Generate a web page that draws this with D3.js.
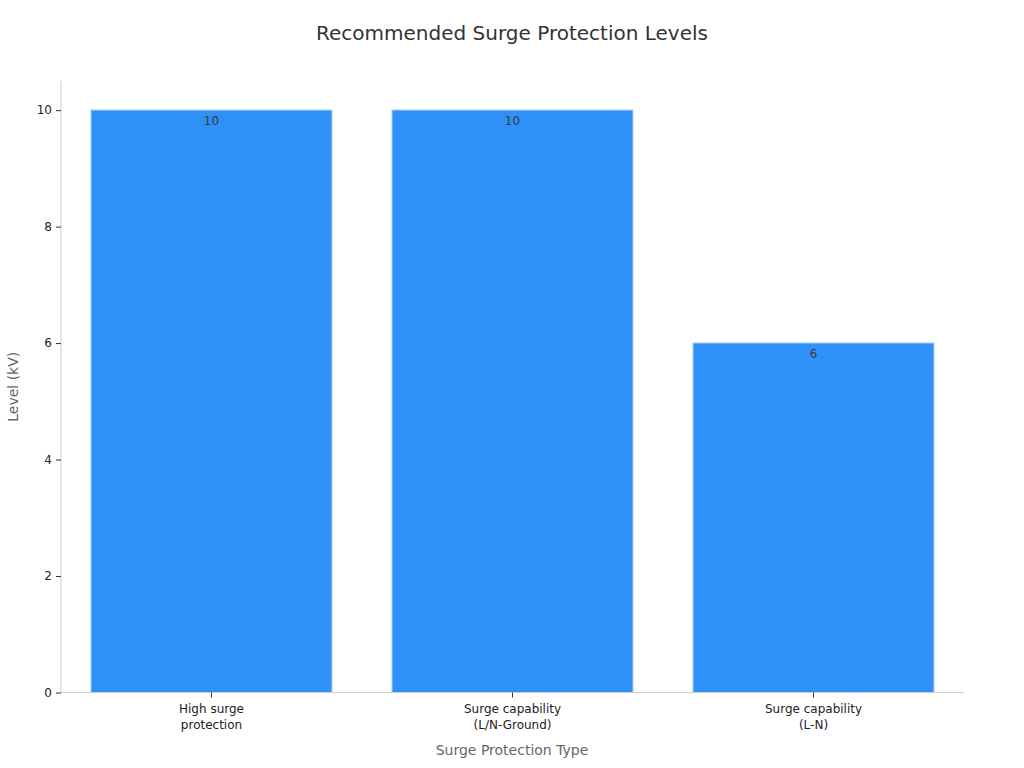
<!DOCTYPE html>
<html><head><meta charset="utf-8">
<script src="https://cdn.jsdelivr.net/npm/d3@7"></script>
<style>body{margin:0;background:#fff;font-family:"DejaVu Sans",sans-serif;}</style>
</head><body><svg id="c" width="1024" height="768"></svg>
<script>
const categories = [["High surge","protection"],["Surge capability","(L/N-Ground)"],["Surge capability","(L-N)"]];
const values = [10, 10, 6];
const yTicks = [0, 2, 4, 6, 8, 10];

const svg = d3.select("#c");
const m = {l:61, r:964, t:81, b:692.5};
const x = d3.scaleBand().domain(d3.range(categories.length)).range([m.l, m.r]).paddingInner(0.2).paddingOuter(0.1);
const y = d3.scaleLinear().domain([0, 10.5]).range([m.b, m.t]);

svg.append("text").attr("x", 512).attr("y", 40).attr("text-anchor","middle")
  .attr("font-size", 20).attr("fill", "#333").text("Recommended Surge Protection Levels");

svg.selectAll("rect.bar").data(values).join("rect").attr("class","bar")
  .attr("x", (d,i)=>x(i)).attr("width", x.bandwidth())
  .attr("y", d=>y(d)).attr("height", d=>y(0)-y(d))
  .attr("fill", "#2F91F8").attr("stroke", "#8cc2fb").attr("stroke-width", 1);

svg.selectAll("text.val").data(values).join("text").attr("class","val")
  .attr("x", (d,i)=>x(i)+x.bandwidth()/2).attr("y", d=>y(d)+15)
  .attr("text-anchor","middle").attr("font-size", 12).attr("fill", "#3a3a3a").text(d=>d);

const ya = svg.append("g").attr("transform", `translate(${m.l},0)`)
  .call(d3.axisLeft(y).tickValues(yTicks).tickSize(5).tickPadding(4));
ya.select(".domain").attr("stroke", "#ccc").attr("d", `M0,${m.t}V${m.b}`);
ya.selectAll(".tick line").attr("stroke", "#333");
ya.selectAll(".tick text").attr("font-size", 12).attr("fill", "#222").attr("font-family","DejaVu Sans");

const xa = svg.append("g").attr("transform", `translate(0,${m.b})`)
  .call(d3.axisBottom(x).tickSize(5).tickFormat(""));
xa.select(".domain").attr("stroke", "#ccc").attr("d", `M${m.l},0H${m.r}`);
xa.selectAll(".tick line").attr("stroke", "#333");
xa.selectAll(".tick").each(function(d){
  const t = d3.select(this).append("text").attr("fill","#222").attr("font-size",12)
    .attr("text-anchor","middle").attr("font-family","DejaVu Sans");
  categories[d].forEach((s,k)=> t.append("tspan").attr("x",0).attr("y", 20 + k*16).text(s));
});

svg.append("text").attr("x", 512).attr("y", 755).attr("text-anchor","middle")
  .attr("font-size", 14).attr("fill", "#666").text("Surge Protection Type");
svg.append("text").attr("transform", `translate(18,${(m.t+m.b)/2}) rotate(-90)`).attr("text-anchor","middle")
  .attr("font-size", 14).attr("fill", "#666").text("Level (kV)");
</script></body></html>
